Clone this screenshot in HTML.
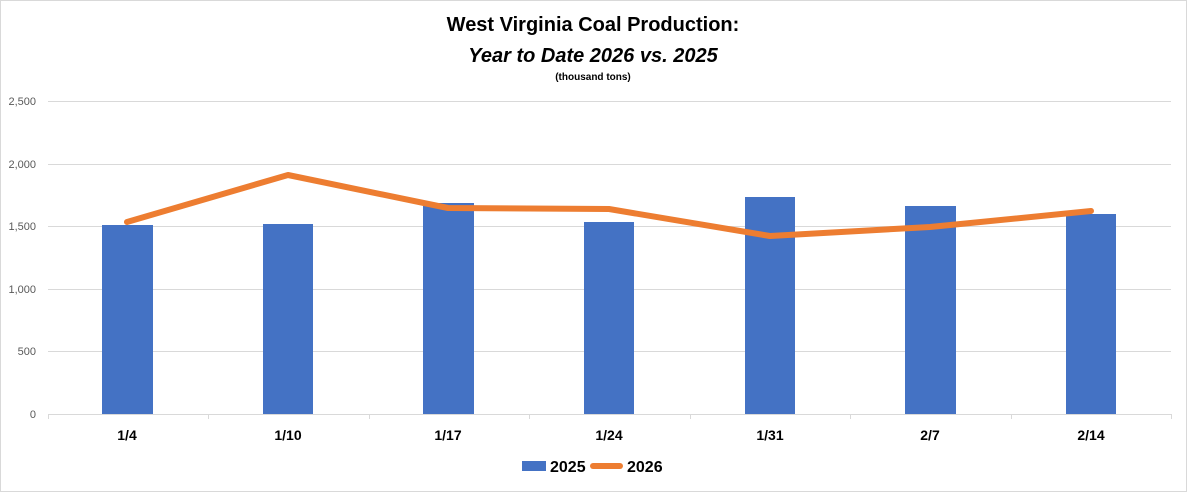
<!DOCTYPE html>
<html><head><style>
html,body{margin:0;padding:0;background:#fff;}
svg{display:block;font-family:"Liberation Sans",sans-serif;}
</style></head><body>
<svg width="1187" height="492" viewBox="0 0 1187 492">
<rect x="0.5" y="0.5" width="1186" height="491" fill="#fff" stroke="#d9d9d9"/>
<text x="593" y="31" text-anchor="middle" font-size="20" font-weight="bold">West Virginia Coal Production:</text>
<text x="593" y="62" text-anchor="middle" font-size="20" font-weight="bold" font-style="italic">Year to Date 2026 vs. 2025</text>
<text x="593" y="80" text-anchor="middle" font-size="10" font-weight="bold">(thousand tons)</text>
<g stroke="#d9d9d9" stroke-width="1">
<line x1="48" x2="1171" y1="101.5" y2="101.5"/>
<line x1="48" x2="1171" y1="164.5" y2="164.5"/>
<line x1="48" x2="1171" y1="226.5" y2="226.5"/>
<line x1="48" x2="1171" y1="289.5" y2="289.5"/>
<line x1="48" x2="1171" y1="351.5" y2="351.5"/>
<line x1="48" x2="1171" y1="414.5" y2="414.5"/>
<line x1="48.5" x2="48.5" y1="414" y2="419"/><line x1="208.5" x2="208.5" y1="414" y2="419"/>
<line x1="369.5" x2="369.5" y1="414" y2="419"/><line x1="529.5" x2="529.5" y1="414" y2="419"/>
<line x1="690.5" x2="690.5" y1="414" y2="419"/><line x1="850.5" x2="850.5" y1="414" y2="419"/>
<line x1="1011.5" x2="1011.5" y1="414" y2="419"/><line x1="1171.5" x2="1171.5" y1="414" y2="419"/>
</g>
<g font-size="11" fill="#595959" text-anchor="end">
<text x="36" y="105">2,500</text><text x="36" y="168">2,000</text><text x="36" y="230">1,500</text>
<text x="36" y="293">1,000</text><text x="36" y="355">500</text><text x="36" y="418">0</text>
</g>
<g fill="#4472c4">
<rect x="102" y="225" width="51" height="189"/>
<rect x="263" y="224" width="50" height="190"/>
<rect x="423" y="203" width="51" height="211"/>
<rect x="584" y="222" width="50" height="192"/>
<rect x="745" y="197" width="50" height="217"/>
<rect x="905" y="206" width="51" height="208"/>
<rect x="1066" y="214" width="50" height="200"/>
</g>
<polyline points="127,222 288,175 448,208 609,209 770,236 930,227 1091,211" fill="none" stroke="#ed7d31" stroke-width="6" stroke-linecap="round" stroke-linejoin="round"/>
<g font-size="14" font-weight="bold" text-anchor="middle">
<text x="127" y="440">1/4</text><text x="288" y="440">1/10</text><text x="448" y="440">1/17</text>
<text x="609" y="440">1/24</text><text x="770" y="440">1/31</text><text x="930" y="440">2/7</text>
<text x="1091" y="440">2/14</text>
</g>
<rect x="522" y="461" width="24" height="10" fill="#4472c4"/>
<text x="550" y="472" font-size="16" font-weight="bold">2025</text>
<line x1="593" x2="620" y1="466" y2="466" stroke="#ed7d31" stroke-width="6" stroke-linecap="round"/>
<text x="627" y="472" font-size="16" font-weight="bold">2026</text>
</svg>
</body></html>
